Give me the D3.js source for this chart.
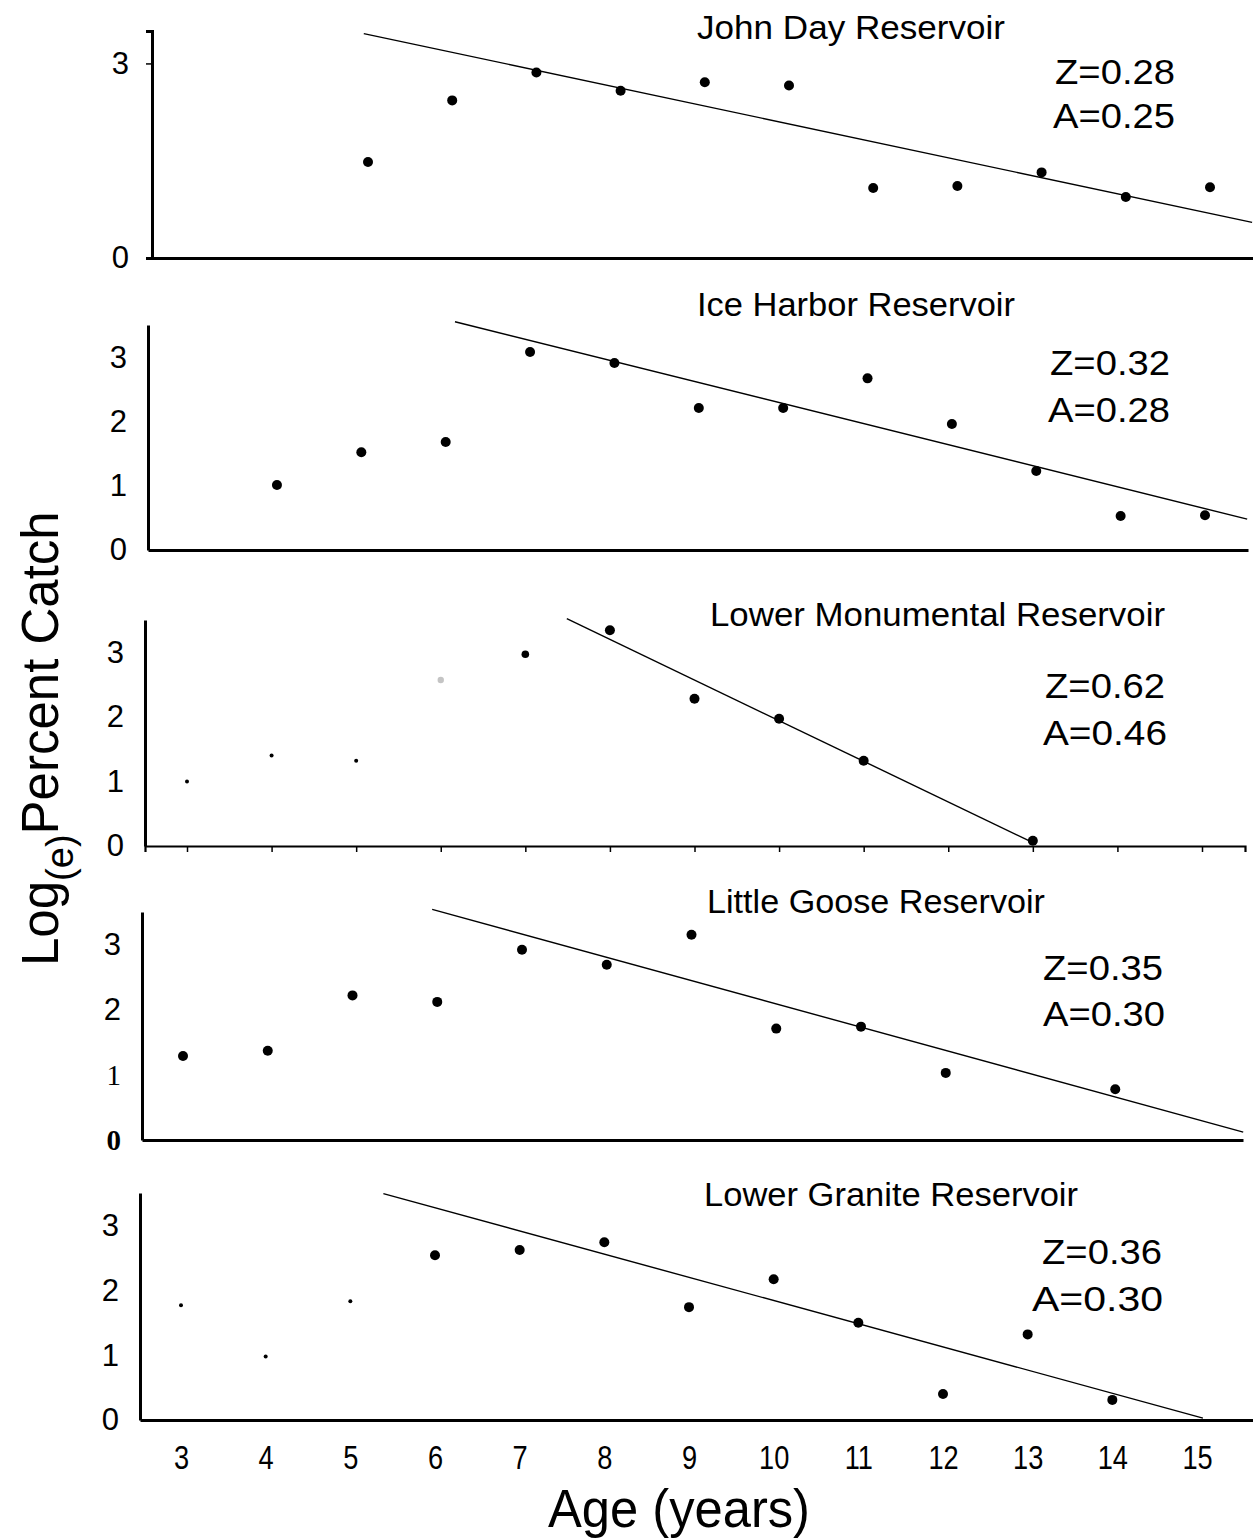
<!DOCTYPE html>
<html><head><meta charset="utf-8">
<script src="https://cdn.jsdelivr.net/npm/d3@7"></script>
<style>body{margin:0;background:#fff}</style>
</head><body>
<svg id="c" width="1253" height="1538"></svg>
<script>
// ---------------- DATA ----------------
const ageTicks = [3,4,5,6,7,8,9,10,11,12,13,14,15];
const xTickLabels = ["3","4","5","6","7","8","9","10","11","12","13","14","15"];
const panelTitles = ["John Day Reservoir","Ice Harbor Reservoir","Lower Monumental Reservoir","Little Goose Reservoir","Lower Granite Reservoir"];
const zValues = ["0.28","0.32","0.62","0.35","0.36"];
const aValues = ["0.25","0.28","0.46","0.30","0.30"];
const yTickValues = [[0,3],[0,1,2,3],[0,1,2,3],[0,1,2,3],[0,1,2,3]];

const johnDayAges = [5,6,7,8,9,10,11,12,13,14,15];
const johnDayLogCatch = [1.48,2.43,2.86,2.58,2.71,2.66,1.08,1.11,1.32,0.94,1.09];
const johnDayType = ["n","n","n","n","n","n","n","n","n","n","n"];
const johnDayLine = [[4.95,3.46],[15.5,0.55]];

const iceHarborAges = [4,5,6,7,8,9,10,11,12,13,14,15];
const iceHarborLogCatch = [1.01,1.52,1.68,3.08,2.91,2.21,2.21,2.67,1.96,1.23,0.53,0.54];
const iceHarborType = ["n","n","n","n","n","n","n","n","n","n","n","n"];
const iceHarborLine = [[6.11,3.55],[15.5,0.48]];

const lowerMonAges = [3,4,5,6,7,8,9,10,11,13];
const lowerMonLogCatch = [1.00,1.40,1.32,2.57,2.97,3.34,2.28,1.97,1.32,0.08];
const lowerMonType = ["s","s","s","f","m","n","n","n","n","n"];
const lowerMonLine = [[7.49,3.52],[12.99,0.06]];

const littleGooseAges = [3,4,5,6,7,8,9,10,11,12,14];
const littleGooseLogCatch = [1.29,1.37,2.22,2.12,2.92,2.69,3.15,1.71,1.74,1.03,0.78];
const littleGooseType = ["n","n","n","n","n","n","n","n","n","n","n"];
const littleGooseLine = [[5.94,3.54],[15.51,0.12]];

const lowerGraniteAges = [3,4,5,6,7,8,9,10,11,12,13,14];
const lowerGraniteLogCatch = [1.77,0.98,1.83,2.54,2.62,2.74,1.74,2.17,1.50,0.40,1.32,0.31];
const lowerGraniteType = ["s","s","s","n","n","n","n","n","n","n","n","n"];
const lowerGraniteLine = [[5.39,3.49],[15.07,0.03]];

const panelAges = [johnDayAges, iceHarborAges, lowerMonAges, littleGooseAges, lowerGraniteAges];
const panelValues = [johnDayLogCatch, iceHarborLogCatch, lowerMonLogCatch, littleGooseLogCatch, lowerGraniteLogCatch];
const panelTypes = [johnDayType, iceHarborType, lowerMonType, littleGooseType, lowerGraniteType];
const panelLines = [johnDayLine, iceHarborLine, lowerMonLine, littleGooseLine, lowerGraniteLine];

const xAxisTitle = "Age  (years)";

// ---------------- LAYOUT ----------------
const layout = [
  {axisX:152, x3:199.6, x15:1210, right:1253, yBase:258, yTop:31,
   title:[697,39,308], z:[1055,84,120], a:[1053,128,122]},
  {axisX:148, x3:192.6, x15:1205, right:1248, yBase:550, yTop:325,
   title:[697,316,318], z:[1050,375,120], a:[1048,422,122]},
  {axisX:145, x3:187, x15:1202, right:1245, yBase:846, yTop:620,
   title:[710,626,455], z:[1045,698,120], a:[1043,745,124]},
  {axisX:142, x3:183, x15:1200, right:1243, yBase:1140, yTop:912,
   title:[707,913,338], z:[1043,980,120], a:[1043,1026,122]},
  {axisX:140, x3:181, x15:1197, right:1253, yBase:1420, yTop:1193,
   title:[704,1206,374], z:[1042,1264,120], a:[1032,1311,131]}
];

const svg = d3.select("#c");
const SANS = "'Liberation Sans', Arial, Helvetica, sans-serif";

panelTitles.forEach((title, i) => {
  const L = layout[i];
  const x = d3.scaleLinear().domain([3,15]).range([L.x3, L.x15]);
  const y = d3.scaleLinear().domain([0,3.5]).range([L.yBase, L.yTop]);
  const xAxisScale = d3.scaleLinear().domain([x.invert(L.axisX), x.invert(L.right)]).range([L.axisX, L.right]);
  const g = svg.append("g");

  // x axis
  const xa = d3.axisBottom(xAxisScale).tickSizeOuter(0);
  if (i === 4) {
    xa.tickValues(ageTicks).tickSize(0).tickPadding(0).tickFormat((d,k) => xTickLabels[k]);
  } else if (i === 2) {
    xa.tickValues(ageTicks).tickSize(6).tickFormat("");
  } else {
    xa.tickValues([]);
  }
  const xg = g.append("g").attr("transform", `translate(0,${L.yBase})`).call(xa);
  xg.select(".domain").attr("stroke","#000").attr("stroke-width", i === 2 ? 2.2 : 3);
  xg.selectAll(".tick line").attr("stroke","#000").attr("stroke-width",1.5);
  xg.selectAll(".tick text").attr("font-family", SANS).attr("font-size", 34).attr("fill","#000")
    .attr("y", 0).attr("dy", 0).attr("transform", "translate(0,49) scale(0.8,1)");

  // y axis
  const ya = d3.axisLeft(y).tickValues(yTickValues[i]).tickSizeOuter(0)
    .tickSize(i === 0 ? 6 : 0).tickPadding(i === 0 ? 17 : 21).tickFormat(d3.format("d"));
  const yg = g.append("g").attr("transform", `translate(${L.axisX},0)`).call(ya);
  yg.select(".domain").attr("stroke","#000").attr("stroke-width",3);
  yg.selectAll(".tick line").attr("stroke","#000").attr("stroke-width",1.5);
  yg.selectAll(".tick text").attr("font-family", SANS).attr("font-size", 31).attr("fill","#000");
  if (i === 3) {
    yg.selectAll(".tick text").filter(d => d === 1).attr("font-family","'Liberation Serif', serif").attr("font-size",29);
    yg.selectAll(".tick text").filter(d => d === 0).attr("font-family","'Liberation Serif', serif").attr("font-weight","bold").attr("font-size",29);
  }
  yg.selectAll(".tick").filter(d => d === 0).select("line").remove();

  // regression line
  const lineGen = d3.line().x(d => x(d[0])).y(d => y(d[1]));
  g.append("path").attr("d", lineGen(panelLines[i]))
    .attr("fill","none").attr("stroke","#000").attr("stroke-width",1.4);

  // points
  const pts = panelAges[i].map((a,k) => ({age:a, v:panelValues[i][k], t:panelTypes[i][k]}));
  g.selectAll("circle.pt").data(pts).enter().append("circle")
    .attr("class","pt")
    .attr("cx", d => x(d.age)).attr("cy", d => y(d.v))
    .attr("r", d => d.t === "s" ? 2 : d.t === "f" ? 3.2 : d.t === "m" ? 3.8 : 5)
    .attr("fill", d => d.t === "f" ? "#c4c4c4" : "#000");

  // title
  g.append("text").attr("x", L.title[0]).attr("y", L.title[1])
    .attr("textLength", L.title[2]).attr("lengthAdjust","spacingAndGlyphs")
    .attr("font-family", SANS).attr("font-size", 33).attr("fill","#000").text(title);
  g.append("text").attr("x", L.z[0]).attr("y", L.z[1])
    .attr("textLength", L.z[2]).attr("lengthAdjust","spacingAndGlyphs")
    .attr("font-family", SANS).attr("font-size", 35).attr("fill","#000").text("Z=" + zValues[i]);
  g.append("text").attr("x", L.a[0]).attr("y", L.a[1])
    .attr("textLength", L.a[2]).attr("lengthAdjust","spacingAndGlyphs")
    .attr("font-family", SANS).attr("font-size", 35).attr("fill","#000").text("A=" + aValues[i]);
});

// axis titles
svg.append("text").attr("x", 548).attr("y", 1527)
  .attr("textLength", 262).attr("lengthAdjust","spacingAndGlyphs")
  .attr("font-family", SANS).attr("font-size", 54).attr("fill","#000").text(xAxisTitle);

const yl = svg.append("text").attr("transform","translate(58,966) rotate(-90)")
  .attr("font-family", SANS).attr("font-size", 51).attr("fill","#000");
yl.append("tspan").text("Log");
yl.append("tspan").attr("font-size", 38).attr("dy", 15).text("(e)");
yl.append("tspan").attr("dy", -15).text("Percent Catch");
</script>
</body></html>
